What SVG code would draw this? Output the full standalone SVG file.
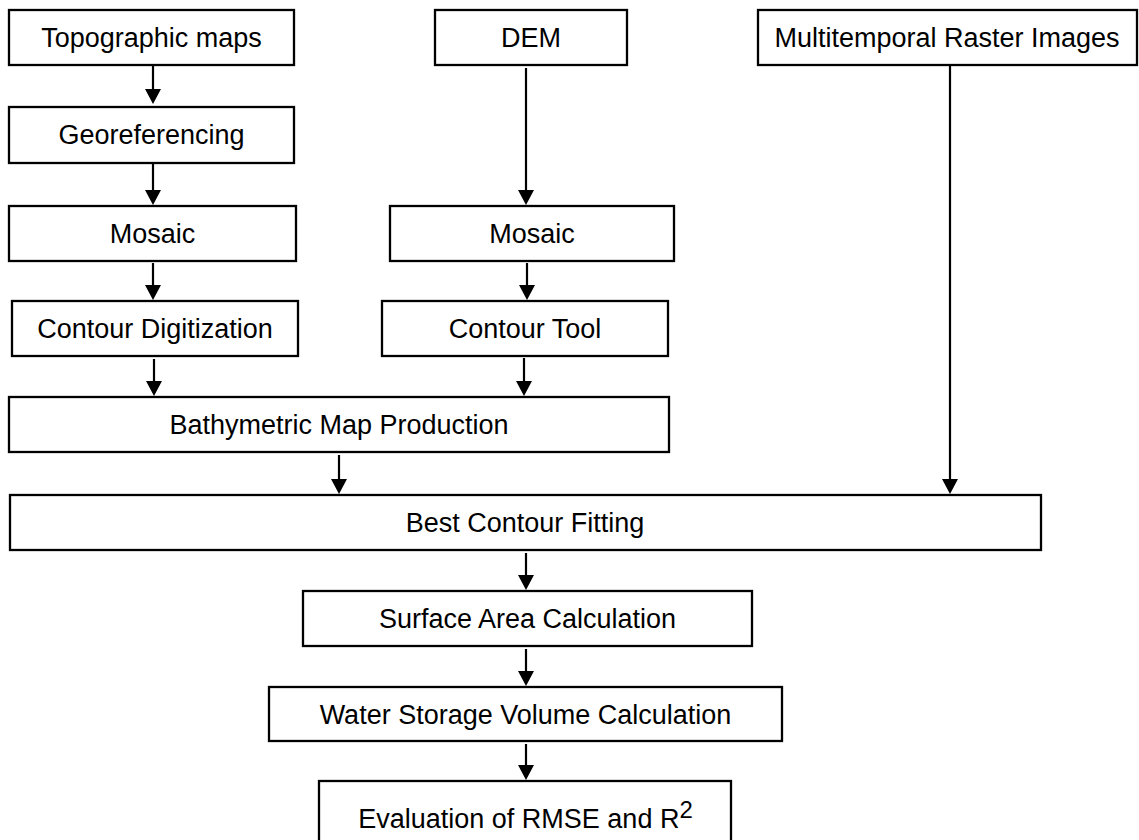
<svg xmlns="http://www.w3.org/2000/svg" width="1139" height="840" viewBox="0 0 1139 840">
<style>
.box{fill:#fff;stroke:#000;stroke-width:2.3}
.lbl{font-family:"Liberation Sans",Arial,sans-serif;font-size:27px;fill:#000;text-anchor:middle}
.con{stroke:#000;stroke-width:2.2;fill:none;marker-end:url(#ah)}
</style>
<defs>
<marker id="ah" markerUnits="userSpaceOnUse" viewBox="0 0 15 16" markerWidth="15" markerHeight="16" refX="10" refY="8" orient="auto">
<path d="M0,0 L15,8 L0,16 z" fill="#000"/>
</marker>
</defs>
<rect width="1139" height="840" fill="#fff"/>
<g id="connectors">
<line class="con" x1="153" y1="66" x2="153" y2="99"/>
<line class="con" x1="153" y1="164" x2="153" y2="200"/>
<line class="con" x1="153" y1="263" x2="153" y2="295"/>
<line class="con" x1="154" y1="359" x2="154" y2="391"/>
<line class="con" x1="526" y1="68" x2="526" y2="200"/>
<line class="con" x1="527" y1="263" x2="527" y2="295"/>
<line class="con" x1="524" y1="358" x2="524" y2="391"/>
<line class="con" x1="339" y1="455" x2="339" y2="489"/>
<line class="con" x1="950" y1="66" x2="950" y2="489"/>
<line class="con" x1="526" y1="553" x2="526" y2="585"/>
<line class="con" x1="526" y1="649" x2="526" y2="681"/>
<line class="con" x1="526" y1="744" x2="526" y2="775"/>
</g>
<g id="topo"><rect class="box" x="9" y="10" width="285" height="55"/><text class="lbl" x="151.5" y="47">Topographic maps</text></g>
<g id="dem"><rect class="box" x="435" y="10" width="192" height="55"/><text class="lbl" x="531" y="47">DEM</text></g>
<g id="multi"><rect class="box" x="758" y="10" width="379" height="55"/><text class="lbl" x="947" y="47">Multitemporal Raster Images</text></g>
<g id="georef"><rect class="box" x="9" y="107" width="285" height="56"/><text class="lbl" x="151.5" y="144">Georeferencing</text></g>
<g id="mosaic1"><rect class="box" x="9" y="206" width="287" height="55"/><text class="lbl" x="152.5" y="243">Mosaic</text></g>
<g id="mosaic2"><rect class="box" x="390" y="206" width="284" height="55"/><text class="lbl" x="532" y="243">Mosaic</text></g>
<g id="contourdig"><rect class="box" x="12" y="301" width="286" height="55"/><text class="lbl" x="155" y="338">Contour Digitization</text></g>
<g id="contourtool"><rect class="box" x="382" y="301" width="286" height="55"/><text class="lbl" x="525" y="338">Contour Tool</text></g>
<g id="bathy"><rect class="box" x="9" y="397" width="660" height="55"/><text class="lbl" x="339" y="434">Bathymetric Map Production</text></g>
<g id="bestfit"><rect class="box" x="10" y="495" width="1031" height="55"/><text class="lbl" x="525" y="532">Best Contour Fitting</text></g>
<g id="surface"><rect class="box" x="303" y="591" width="449" height="55"/><text class="lbl" x="527.5" y="628">Surface Area Calculation</text></g>
<g id="water"><rect class="box" x="269" y="687" width="513" height="54"/><text class="lbl" x="525.5" y="724">Water Storage Volume Calculation</text></g>
<g id="eval"><rect class="box" x="319" y="781" width="412" height="70"/><text class="lbl" x="525.5" y="828">Evaluation of RMSE and R<tspan dy="-10" font-size="24">2</tspan></text></g>
</svg>
